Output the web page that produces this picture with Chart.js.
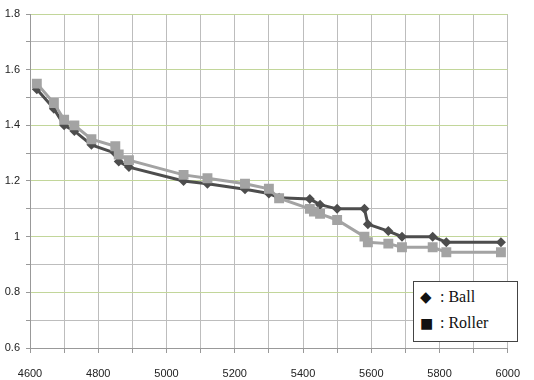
<!DOCTYPE html>
<html>
<head>
<meta charset="utf-8">
<script src="https://cdn.jsdelivr.net/npm/chart.js@4/dist/chart.umd.min.js"></script>
<style>
  html, body { margin: 0; padding: 0; background: #fff; }
  #wrap { position: relative; width: 534px; height: 380px; }
  #legend {
    position: absolute; left: 413px; top: 281px; width: 103px; height: 59px;
    border: 1px solid #444; background: #fff;
    font-family: "Liberation Serif", "Times New Roman", serif; font-size: 16px; color: #111;
  }
  #legend .row { position: absolute; left: 6px; white-space: nowrap; }
  #legend .sym { font-family: "DejaVu Sans", sans-serif; display: inline-block; width: 16px; }
</style>
</head>
<body>
<div id="wrap">
  <canvas id="c" width="534" height="380"></canvas>
  <div id="legend">
    <div class="row" style="top:6px"><span class="sym" style="font-size:15px">◆</span> : Ball</div>
    <div class="row" style="top:32px"><span class="sym" style="font-size:14px">■</span> : Roller</div>
  </div>
</div>
<script>
// Data
const ballX   = [4620,4670,4700,4730,4780,4850,4860,4890,5050,5120,5230,5300,5330,5420,5450,5500,5580,5590,5650,5690,5780,5820,5980];
const ballY   = [1.53,1.46,1.40,1.38,1.33,1.30,1.27,1.25,1.20,1.19,1.17,1.155,1.14,1.135,1.115,1.10,1.10,1.045,1.02,1.00,1.00,0.98,0.98];
const rollerX = [4620,4670,4700,4730,4780,4850,4860,4890,5050,5120,5230,5300,5330,5420,5432,5450,5500,5580,5590,5650,5690,5780,5820,5980];
const rollerY = [1.55,1.48,1.42,1.40,1.35,1.325,1.295,1.275,1.222,1.21,1.19,1.172,1.138,1.10,1.09,1.082,1.06,1.00,0.98,0.975,0.962,0.962,0.944,0.944];
const xTickLabels = [4600,4800,5000,5200,5400,5600,5800,6000];
const yTickLabels = [0.6,0.8,1,1.2,1.4,1.6,1.8];

const toPts = (xs, ys) => xs.map((x, i) => ({ x: x, y: ys[i] }));

const tickFont = { family: "'Liberation Sans', Arial, sans-serif", size: 11 };

new Chart(document.getElementById('c'), {
  type: 'scatter',
  data: {
    datasets: [
      {
        label: 'Ball',
        data: toPts(ballX, ballY),
        showLine: true,
        borderColor: '#4d4d4d',
        backgroundColor: '#4d4d4d',
        borderWidth: 3,
        pointStyle: 'rectRot',
        pointRadius: 5,
        pointBorderWidth: 0,
        order: 2
      },
      {
        label: 'Roller',
        data: toPts(rollerX, rollerY),
        showLine: true,
        borderColor: '#a3a3a3',
        backgroundColor: '#a3a3a3',
        borderWidth: 3,
        pointStyle: 'rect',
        pointRadius: 7,
        pointBorderWidth: 0,
        order: 1
      }
    ]
  },
  options: {
    responsive: false,
    animation: false,
    layout: { padding: { left: 0, right: 23, top: 14, bottom: 0 } },
    plugins: { legend: { display: false }, tooltip: { enabled: false } },
    scales: {
      x: {
        type: 'linear',
        min: 4600, max: 6000,
        afterFit: s => { s.height = 32; },
        border: { color: '#999999', width: 1 },
        grid: { color: '#bdbdbd', tickColor: '#999999', tickLength: 5, lineWidth: 1 },
        ticks: {
          stepSize: 100, autoSkip: false, maxRotation: 0, padding: 14,
          color: '#222', font: tickFont,
          callback: v => xTickLabels.includes(v) ? String(v) : ''
        }
      },
      y: {
        min: 0.6, max: 1.8,
        afterFit: s => { s.width = 30; },
        border: { color: '#999999', width: 1 },
        grid: {
          color: ctx => {
            if (!ctx.tick) return '#bdbdbd';
            const k = Math.round(ctx.tick.value * 10);
            return k % 2 === 0 ? '#c2d69a' : '#bdbdbd';
          },
          tickColor: '#999999', tickLength: 4, lineWidth: 1
        },
        ticks: {
          stepSize: 0.1, autoSkip: false, padding: 6,
          color: '#222', font: tickFont,
          callback: v => {
            const r = Math.round(v * 10) / 10;
            return yTickLabels.includes(r) ? String(r) : '';
          }
        }
      }
    }
  }
});
</script>
</body>
</html>
